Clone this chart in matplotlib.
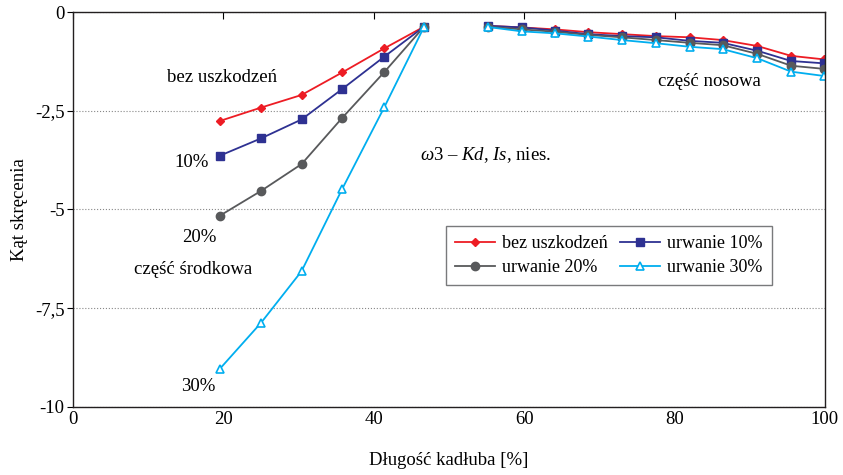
import numpy as np
import matplotlib
matplotlib.use("Agg")
import matplotlib.pyplot as plt
from matplotlib.ticker import FixedLocator, FuncFormatter

plt.rcParams['font.family'] = ['Liberation Serif', 'DejaVu Serif']
plt.rcParams['mathtext.fontset'] = 'custom'
plt.rcParams['mathtext.rm'] = 'Liberation Serif'
plt.rcParams['mathtext.it'] = 'Liberation Serif:italic'

# -------------------
# data
# -------------------
x_mid = [19.5, 25.0, 30.4, 35.8, 41.4, 46.7]
x_nose = [55.2, 59.7, 64.1, 68.5, 73.0, 77.5, 82.0, 86.4, 91.0, 95.5, 99.9]

bez_mid = [-2.76, -2.42, -2.10, -1.53, -0.92, -0.37]
u10_mid = [-3.64, -3.20, -2.72, -1.95, -1.13, -0.37]
u20_mid = [-5.16, -4.53, -3.85, -2.68, -1.52, -0.37]
u30_mid = [-9.04, -7.87, -6.56, -4.48, -2.41, -0.37]

bez_nose = [-0.35, -0.39, -0.44, -0.51, -0.56, -0.61, -0.64, -0.71, -0.86, -1.11, -1.20]
u10_nose = [-0.35, -0.39, -0.47, -0.56, -0.61, -0.64, -0.73, -0.78, -0.98, -1.24, -1.30]
u20_nose = [-0.37, -0.44, -0.50, -0.58, -0.64, -0.71, -0.78, -0.84, -1.06, -1.36, -1.44]
u30_nose = [-0.38, -0.49, -0.54, -0.62, -0.71, -0.79, -0.88, -0.94, -1.17, -1.51, -1.62]

labels = ["bez uszkodzeń", "urwanie 10%", "urwanie 20%", "urwanie 30%"]
y_ticks = [0, -2.5, -5, -7.5, -10]
x_ticks = [0, 20, 40, 60, 80, 100]

# -------------------
# plot
# -------------------
fs = 13.5
fig = plt.figure(figsize=(8.43, 4.75), dpi=100)
ax = fig.add_axes([0.0866, 0.1432, 0.8920, 0.8315])

styles = [
    dict(color="#ed1c24", marker="D", markersize=4, mfc="#ed1c24"),
    dict(color="#2e3192", marker="s", markersize=6, mfc="#2e3192"),
    dict(color="#58595b", marker="o", markersize=6, mfc="#58595b"),
    dict(color="#00aeef", marker="^", markersize=6, mfc="white", mew=1.2),
]
series = [(bez_mid, bez_nose), (u10_mid, u10_nose), (u20_mid, u20_nose), (u30_mid, u30_nose)]

handles = []
for (mid, nose), st in zip(series, styles):
    h, = ax.plot(x_mid, mid, lw=1.3, **st)
    ax.plot(x_nose, nose, lw=1.3, **st)
    handles.append(h)

ax.set_xlim(0, 100)
ax.set_ylim(-10, 0)
ax.xaxis.set_major_locator(FixedLocator(x_ticks))
ax.yaxis.set_major_locator(FixedLocator(y_ticks))
ax.yaxis.set_major_formatter(FuncFormatter(lambda v, p: f"{v:g}".replace(".", ",")))
ax.tick_params(axis="x", bottom=False, top=True, direction="in", length=5, labelsize=fs, pad=3)
ax.tick_params(axis="y", direction="out", length=4, labelsize=fs, pad=2)
ax.yaxis.grid(True, linestyle=":", color="#888888", lw=0.8)

for s in ax.spines.values():
    s.set_color("#231f20")
    s.set_linewidth(1.0)

ax.set_xlabel("Długość kadłuba [%]", fontsize=fs, labelpad=17)
ax.set_ylabel("Kąt skręcenia", fontsize=fs, labelpad=5)

# annotations
ax.text(12.5, -1.65, "bez uszkodzeń", fontsize=fs, va="center", ha="left")
ax.text(15.8, -3.8, "10%", fontsize=fs, va="center", ha="center")
ax.text(16.8, -5.72, "20%", fontsize=fs, va="center", ha="center")
ax.text(16.0, -6.53, "część środkowa", fontsize=fs, va="center", ha="center")
ax.text(16.6, -9.49, "30%", fontsize=fs, va="center", ha="center")
ax.text(84.7, -1.77, "część nosowa", fontsize=fs, va="center", ha="center")
ax.text(46.1, -3.62, r"$\mathit{\omega}$3 – $\mathit{Kd}$, $\mathit{Is}$, nies.",
        fontsize=fs, va="center", ha="left")

# two columns filled row by row as in the original
order = [0, 2, 1, 3]
leg = ax.legend([handles[i] for i in order], [labels[i] for i in order],
                loc="lower left", bbox_to_anchor=(0.484, 0.285), ncol=2, fontsize=13,
                frameon=True, fancybox=False, edgecolor="#58595b", handlelength=2.2,
                columnspacing=0.7, handletextpad=0.4, borderpad=0.5, labelspacing=0.4)
leg.get_frame().set_linewidth(1.0)

fig.savefig("out.png", dpi=100)
